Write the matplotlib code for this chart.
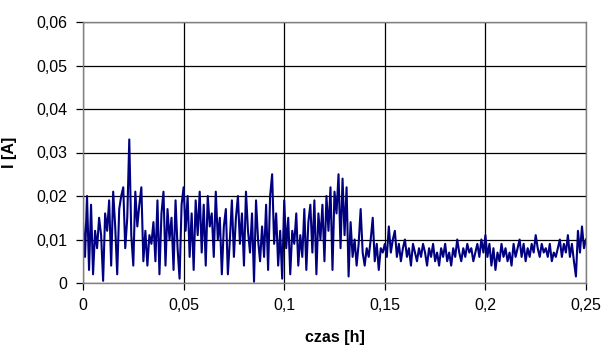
import numpy as np
import matplotlib
matplotlib.use("Agg")
import matplotlib.pyplot as plt

t_start = 0.0
t_step = 0.001

current = [
    # 0.000-0.009
    0.014, 0.006, 0.020, 0.003, 0.018, 0.002, 0.012, 0.008, 0.015, 0.011,
    # 0.010-0.019
    0.0005, 0.016, 0.012, 0.019, 0.004, 0.021, 0.013, 0.002, 0.017, 0.020,
    # 0.020-0.029
    0.022, 0.008, 0.015, 0.033, 0.011, 0.004, 0.021, 0.013, 0.018, 0.022,
    # 0.030-0.039
    0.005, 0.012, 0.004, 0.011, 0.009, 0.014, 0.005, 0.019, 0.002, 0.016,
    # 0.040-0.049
    0.021, 0.004, 0.017, 0.010, 0.015, 0.003, 0.019, 0.008, 0.001, 0.018,
    # 0.050-0.059
    0.022, 0.012, 0.020, 0.006, 0.016, 0.003, 0.019, 0.011, 0.021, 0.007,
    # 0.060-0.069
    0.018, 0.004, 0.020, 0.013, 0.016, 0.006, 0.021, 0.010, 0.015, 0.002,
    # 0.070-0.079
    0.013, 0.017, 0.002, 0.010, 0.019, 0.006, 0.015, 0.020, 0.009, 0.016,
    # 0.080-0.089
    0.004, 0.021, 0.012, 0.007, 0.016, 0.0003, 0.019, 0.010, 0.005, 0.013,
    # 0.090-0.099
    0.006, 0.018, 0.003, 0.020, 0.025, 0.009, 0.016, 0.004, 0.012, 0.001,
    # 0.100-0.109
    0.019, 0.008, 0.015, 0.002, 0.012, 0.009, 0.016, 0.004, 0.011, 0.006,
    # 0.110-0.119
    0.017, 0.003, 0.014, 0.018, 0.007, 0.019, 0.002, 0.016, 0.010, 0.018,
    # 0.120-0.129
    0.005, 0.020, 0.012, 0.022, 0.003, 0.021, 0.016, 0.025, 0.008, 0.024,
    # 0.130-0.139
    0.011, 0.022, 0.0015, 0.014, 0.006, 0.010, 0.004, 0.009, 0.017, 0.007,
    # 0.140-0.149
    0.004, 0.008, 0.006, 0.010, 0.015, 0.005, 0.009, 0.003, 0.008, 0.007,
    # 0.150-0.159
    0.009, 0.006, 0.013, 0.007, 0.010, 0.012, 0.006, 0.009, 0.005, 0.008,
    # 0.160-0.169
    0.010, 0.006, 0.008, 0.004, 0.009, 0.007, 0.005, 0.008, 0.006, 0.009,
    # 0.170-0.179
    0.007, 0.004, 0.008, 0.006, 0.009, 0.005, 0.007, 0.004, 0.008, 0.006,
    # 0.180-0.189
    0.009, 0.005, 0.007, 0.004, 0.008, 0.006, 0.010, 0.007, 0.005, 0.008,
    # 0.190-0.199
    0.006, 0.009, 0.007, 0.008, 0.005, 0.007, 0.009, 0.006, 0.010, 0.007,
    # 0.200-0.209
    0.011, 0.006, 0.009, 0.004, 0.008, 0.003, 0.007, 0.005, 0.009, 0.006,
    # 0.210-0.219
    0.008, 0.005, 0.007, 0.004, 0.009, 0.006, 0.008, 0.010, 0.006, 0.009,
    # 0.220-0.229
    0.005, 0.008, 0.006, 0.009, 0.007, 0.011, 0.008, 0.006, 0.009, 0.007,
    # 0.230-0.239
    0.008, 0.006, 0.009, 0.005, 0.007, 0.006, 0.008, 0.010, 0.006, 0.009,
    # 0.240-0.250
    0.007, 0.011, 0.006, 0.009, 0.005, 0.0015, 0.012, 0.007, 0.013, 0.008, 0.010,
]
time_h = [t_start + i * t_step for i in range(len(current))]

x_ticks = [0, 0.05, 0.1, 0.15, 0.2, 0.25]
x_tick_labels = ["0", "0,05", "0,1", "0,15", "0,2", "0,25"]
y_ticks = [0, 0.01, 0.02, 0.03, 0.04, 0.05, 0.06]
y_tick_labels = ["0", "0,01", "0,02", "0,03", "0,04", "0,05", "0,06"]
x_label = "czas [h]"
y_label = "I [A]"

plt.rcParams['font.family'] = ['Liberation Sans', 'DejaVu Sans']

fig = plt.figure(figsize=(6.03, 3.45), dpi=100)
ax = fig.add_axes([83/603, 1-283/345, (586-83)/603, (283-22)/345])

ax.plot(time_h, current, color="#000080", linewidth=1.5)

ax.set_xlim(0, 0.25)
ax.set_ylim(0, 0.06)
ax.set_xticks(x_ticks)
ax.set_xticklabels(x_tick_labels, fontsize=11.5)
ax.set_yticks(y_ticks)
ax.set_yticklabels(y_tick_labels, fontsize=11.5)
ax.grid(True, color="black", linewidth=0.9)
ax.set_axisbelow(True)
for s in ax.spines.values():
    s.set_color("#808080")
    s.set_linewidth(1.0)
ax.tick_params(direction="out", length=5, width=0.9, color="black", pad=6)

ax.set_xlabel(x_label, fontsize=11.5, fontweight="bold", labelpad=12)
ax.set_ylabel(y_label, fontsize=11.5, fontweight="bold", labelpad=14)

fig.savefig("out.png", dpi=100)
